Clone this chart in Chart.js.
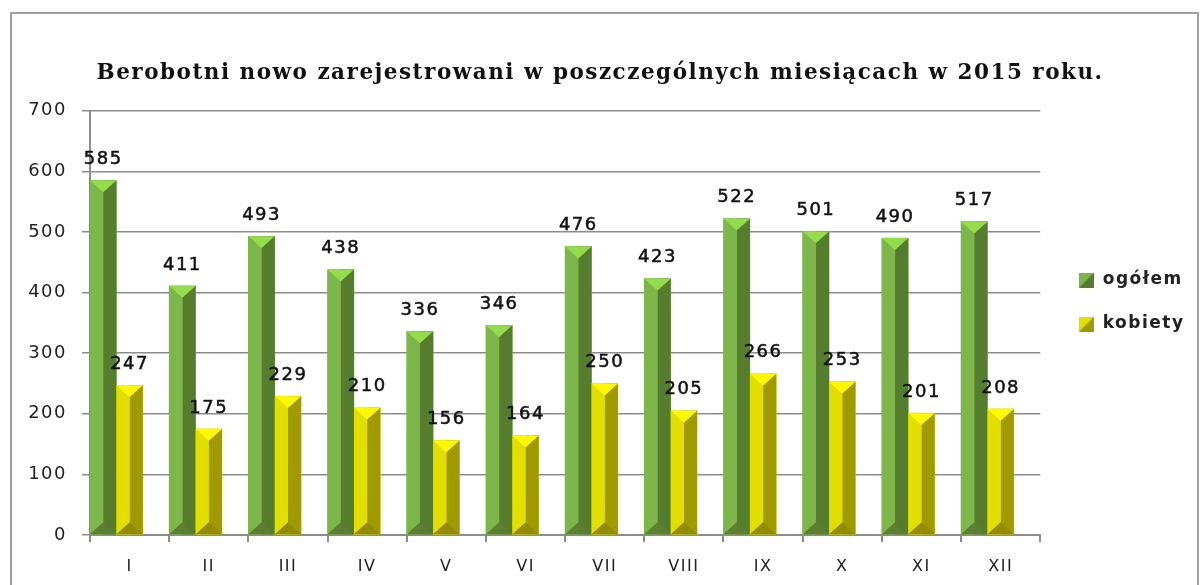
<!DOCTYPE html>
<html><head><meta charset="utf-8">
<style>html,body{margin:0;padding:0;background:#fff}#w{width:1200px;height:585px}canvas{display:block;filter:blur(0.45px)}</style>
<script src="https://cdn.jsdelivr.net/npm/chart.js@4"></script></head>
<body><div id="w"><canvas id="c" width="1200" height="585"></canvas></div>
<script>
const months=['I','II','III','IV','V','VI','VII','VIII','IX','X','XI','XII'];
const ogolem=[585,411,493,438,336,346,476,423,522,501,490,517];
const kobiety=[247,175,229,210,156,164,250,205,266,253,201,208];
const titleText='Berobotni nowo zarejestrowani w poszczególnych miesiącach w 2015 roku.';
const yTicks=[0,100,200,300,400,500,600,700];
const green={l:'#7DB64A',r:'#567C2E',t:'#94DC4C',b:'#5E7E33'};
const yellow={l:'#E2DE00',r:'#A09A00',t:'#FFF800',b:'#938B00'};
const textCol='#222222',gridCol='#8c8c8c';
function swatch(p){const s=document.createElement('canvas');s.width=s.height=15;const x=s.getContext('2d');
 x.fillStyle=p.r;x.fillRect(0,0,15,15);x.fillStyle=p.l;x.beginPath();x.moveTo(0,0);x.lineTo(15,0);x.lineTo(0,15);x.fill();return s;}
const bevel={id:'bevel',afterDatasetsDraw(ch){const c=ch.ctx;c.save();
 [green,yellow].forEach((p,i)=>{ch.getDatasetMeta(i).data.forEach(b=>{
  const L=b.x-b.width/2,R=b.x+b.width/2,T=b.y,B=b.base,M=b.x,d=Math.min(b.width*0.45,(B-T)/2);
  const tri=(col,pts)=>{c.fillStyle=col;c.beginPath();pts.forEach((q,k)=>k?c.lineTo(q[0],q[1]):c.moveTo(q[0],q[1]));c.closePath();c.fill();};
  tri(p.r,[[M,T],[R,T],[R,B],[M,B]]);
  tri(p.l,[[L,T],[M,T],[M,B],[L,B]]);
  tri(p.t,[[L,T],[R,T],[M,T+d]]);
  tri(p.b,[[L,B],[R,B],[M,B-d]]);
 });});
 c.font='18px "DejaVu Sans"';c.fillStyle='#111';c.textAlign='center';c.textBaseline='middle';
 c.lineWidth=0.5;c.strokeStyle='#111';
 [ogolem,kobiety].forEach((vals,i)=>{ch.getDatasetMeta(i).data.forEach((b,k)=>{
  c.fillText(vals[k],b.x,b.y-21);c.strokeText(vals[k],b.x,b.y-21);});});
 c.restore();}};
const frame={id:'frame',beforeDraw(ch){const c=ch.ctx;c.letterSpacing='1.5px';c.save();c.strokeStyle='#a0a0a0';c.lineWidth=2;
 c.beginPath();c.moveTo(11,590);c.lineTo(11,13);c.lineTo(1198,13);c.lineTo(1198,590);c.stroke();c.restore();}};
new Chart(document.getElementById('c'),{type:'bar',
 data:{labels:months,datasets:[
  {label:'ogółem',data:ogolem,backgroundColor:green.l,pointStyle:swatch(green)},
  {label:'kobiety',data:kobiety,backgroundColor:yellow.l,pointStyle:swatch(yellow)},
  {label:'',data:months.map(()=>null)}]},
 plugins:[frame,bevel],
 options:{responsive:false,animation:false,devicePixelRatio:1,
  datasets:{bar:{categoryPercentage:1,barPercentage:1}},
  layout:{padding:{left:16,right:16,top:19,bottom:0}},
  plugins:{
   title:{display:true,text:titleText,color:'#111',font:{family:'"DejaVu Serif"',size:21.5,weight:'bold'},padding:{top:42,bottom:24}},
   legend:{position:'right',labels:{filter:l=>l.text!=='',usePointStyle:true,color:textCol,font:{family:'"DejaVu Sans"',size:17,weight:'bold'},padding:27,boxWidth:15}},
   tooltip:{enabled:false}},
  scales:{
   x:{grid:{display:true,drawOnChartArea:false,color:gridCol,lineWidth:2,tickLength:7,tickColor:gridCol},border:{color:gridCol,width:2},
      ticks:{color:textCol,padding:15,font:{family:'"DejaVu Sans"',size:16},maxRotation:0},
      afterFit(s){s.height=50;}},
   y:{min:0,max:700,grid:{color:gridCol,lineWidth:1.5,tickLength:8,tickColor:gridCol},border:{color:gridCol,width:2},
      afterBuildTicks(s){s.ticks=yTicks.map(v=>({value:v}));},
      ticks:{color:textCol,padding:15,font:{family:'"DejaVu Sans"',size:18}},
      afterFit(s){s.width=74;}},
   gap:{position:'right',display:true,min:0,max:700,grid:{display:false},border:{display:false},ticks:{display:false},afterFit(s){s.width=12;}}}}});
</script></body></html>
